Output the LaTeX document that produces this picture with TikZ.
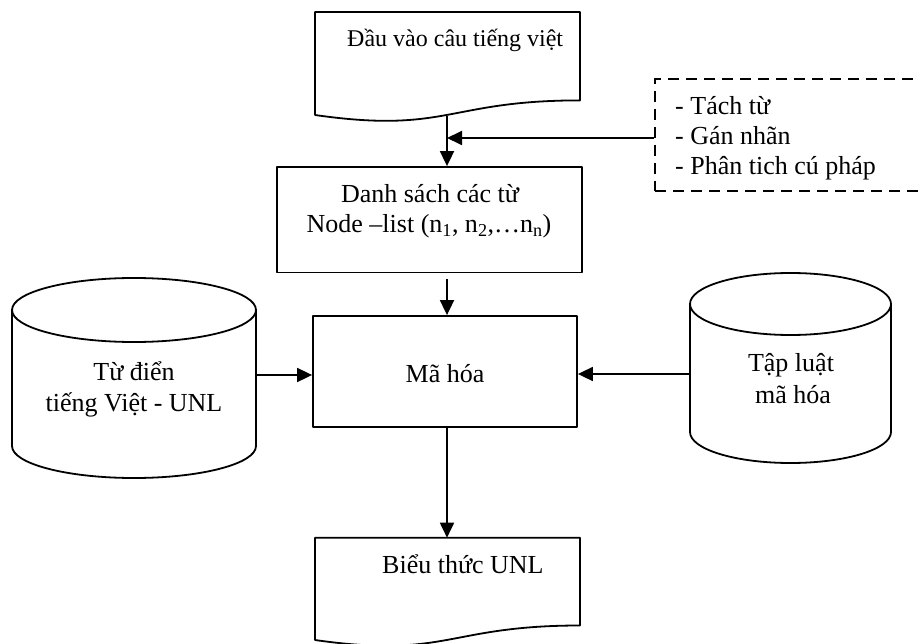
\documentclass[tikz,border=0pt]{standalone}
\usepackage{fontspec}
\setmainfont{Liberation Serif}
\usetikzlibrary{arrows.meta}
\begin{document}
\begin{tikzpicture}[x=1pt,y=-1pt,
  outline/.style={draw,line width=1.8pt,line join=round},
  arr/.style={line width=1.8pt,-{Triangle[length=15pt,width=14pt]}},
  boxnode/.style={outline,rectangle,inner sep=0pt},
  frame/.style={draw,line width=1.6pt,dash pattern=on 11pt off 7pt},
  lbl/.style={font=\fontsize{26}{31}\selectfont,inner sep=0pt},
  smalllbl/.style={font=\fontsize{24}{29}\selectfont,inner sep=0pt}
]
\useasboundingbox (0,0) rectangle (918,644);

% input document (wavy bottom)
\draw[outline] (315,12) -- (580,12) -- (580,100.4)
  .. controls (447.5,100.4) and (447.5,134) .. (315,115) -- cycle;
\coordinate (inB) at (447,116);
\node[smalllbl,anchor=base west] (tin) at (347,46.7) {Đầu vào câu tiếng việt};

% preprocessing steps (dashed frame running off the right edge)
\node[frame,rectangle,inner sep=0pt,minimum width=280pt,minimum height=112pt] (steps) at (795,135) {};
\node[lbl,anchor=base west] (s1) at (675,115) {- Tách từ};
\node[lbl,anchor=base west] (s2) at (675,145) {- Gán nhãn};
\node[lbl,anchor=base west] (s3) at (675,175) {- Phân tich cú pháp};

% word list
\node[boxnode,minimum width=305pt,minimum height=105.5pt] (list) at (429.5,219.75) {};
\node[lbl,anchor=base] (l1) at (430,203) {Danh sách các từ};
\node[lbl,anchor=base] (l2) at (429,233) {Node –list (n\textsubscript{1}, n\textsubscript{2},…n\textsubscript{n})};

% encoding step
\node[boxnode,minimum width=264pt,minimum height=111pt] (enc) at (445,371.5) {};
\node[lbl,anchor=base] (encT) at (445,382) {Mã hóa};

% dictionary cylinder
\draw[outline] (12,310) -- (12,446) arc[start angle=180,end angle=0,x radius=122,y radius=32] -- (256,310);
\draw[outline] (134,310) ellipse[x radius=122,y radius=32];
\coordinate (dictR) at (256,375);
\node[lbl,anchor=base] (d1) at (134,380) {Từ điển};
\node[lbl,anchor=base] (d2) at (134,411.5) {tiếng Việt - UNL};

% rule set cylinder
\draw[outline] (690,304) -- (690,432) arc[start angle=180,end angle=0,x radius=100.5,y radius=31] -- (891,304);
\draw[outline] (790.5,304) ellipse[x radius=100.5,y radius=31];
\coordinate (rulesL) at (690,374);
\node[lbl,anchor=base] (r1) at (791,371.5) {Tập luật};
\node[lbl,anchor=base] (r2) at (793,403) {mã hóa};

% output document (wavy bottom)
\draw[outline] (315,537.7) -- (580,537.7) -- (580,625.5)
  .. controls (447.5,625.5) and (447.5,658.9) .. (315,640) -- cycle;
\coordinate (outT) at (447,537.7);
\node[lbl,anchor=base west] (tout) at (382,573) {Biểu thức UNL};

% connectors
\draw[arr] (inB) -- (inB |- list.north);
\draw[arr] ([yshift=-3pt]steps.west) -- ([yshift=-3pt]steps.west -| inB);
\draw[arr,shorten <=6pt] (inB |- list.south) -- (inB |- enc.north);
\draw[arr] (dictR) -- (dictR -| enc.west);
\draw[arr] (rulesL) -- (rulesL -| enc.east);
\draw[arr] (inB |- enc.south) -- (outT);
\end{tikzpicture}
\end{document}
